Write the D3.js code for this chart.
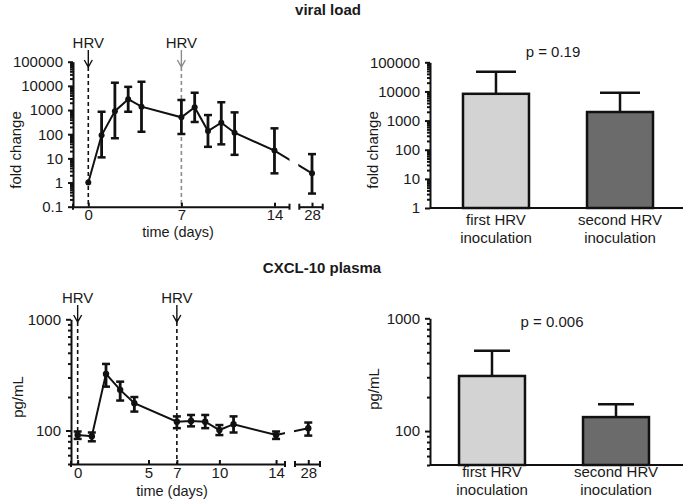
<!DOCTYPE html>
<html><head><meta charset="utf-8">
<script src="https://cdn.jsdelivr.net/npm/d3@7"></script>
<style>body{margin:0;background:#fff} text{font-family:"Liberation Sans",Arial,sans-serif;fill:#1a1a1a}</style>
</head><body>
<script>
// ---------- data ----------
const viralDays=[0,1,2,3,4,7,8,9,10,11,14,28];
const viralMean=[1,90,900,2800,1380,500,1300,135,300,115,21,2.4];
const viralLow=[1,11,68,850,126,102,320,30,38,14,2.4,0.35];
const viralHigh=[1,850,13500,9100,14800,2600,5200,620,2100,800,175,15];
const viralTicks=[0.1,1,10,100,1000,10000,100000];
const viralDayTicks=[0,7,14];

const cxclDays=[0,1,2,3,4,7,8,9,10,11,14,28];
const cxclMean=[91,89,323,232,176,120,122,120,101,114,91,105];
const cxclLow=[84,80,248,186,148,105,109,105,91,96,84,90];
const cxclHigh=[98,96,397,275,200,134,138,138,112,134,98,118];
const cxclTicks=[100,1000];
const cxclDayTicks=[0,5,7,10,14];
const lateDayTicks=[28];

const groups=["first HRV inoculation","second HRV inoculation"];
const groupLines=[["first HRV","inoculation"],["second HRV","inoculation"]];
const barColors=["#d3d3d3","#6b6b6b"];
const viralBar=[8300,1970];
const viralBarErr=[47500,9100];
const viralBarTicks=[1,10,100,1000,10000,100000];
const cxclBar=[308,133];
const cxclBarErr=[515,173];

const FS="15px";
const svg=d3.select("body").append("svg").attr("width",685).attr("height",500);
svg.append("rect").attr("width",685).attr("height",500).attr("fill","#fff");

function minorVals(dom){
  const out=[];
  for(let e=Math.floor(Math.log10(dom[0]));e<=Math.ceil(Math.log10(dom[1]));e++){
    for(let k=2;k<=9;k++){const v=k*Math.pow(10,e); if(v>=dom[0]&&v<=dom[1]) out.push(v);}
  }
  return out;
}
function yAxis(y,x0,majors){
  const g=svg.append("g").attr("transform",`translate(${x0},0)`);
  g.call(d3.axisLeft(y).tickValues(minorVals(y.domain())).tickSize(3).tickFormat("").tickSizeOuter(0));
  g.select(".domain").remove();
  const g2=svg.append("g").attr("transform",`translate(${x0},0)`);
  g2.call(d3.axisLeft(y).tickValues(majors).tickSize(5).tickPadding(5).tickFormat(d=>String(d)).tickSizeOuter(0));
  [g,g2].forEach(gg=>{gg.selectAll("path,line").attr("stroke","#111").attr("stroke-width",2);
    gg.selectAll("text").style("font-size",FS).attr("fill","#1a1a1a");});
}
function xAxisSeg(x,y0,ticks){
  const g=svg.append("g").attr("transform",`translate(0,${y0})`);
  g.call(d3.axisBottom(x).tickValues(ticks).tickSizeInner(-4).tickPadding(3).tickSizeOuter(0).tickFormat(d=>String(d)));
  g.selectAll("path,line").attr("stroke","#111").attr("stroke-width",2);
  g.selectAll("text").style("font-size",FS).attr("fill","#1a1a1a");
  // end caps of the broken axis
  x.range().forEach(px=>{
    g.append("line").attr("x1",px).attr("x2",px).attr("y1",-3).attr("y2",3).attr("stroke","#111").attr("stroke-width",2);
  });
}
function yLabel(txt,cx,cy){
  svg.append("text").attr("transform",`translate(${cx},${cy}) rotate(-90)`).attr("text-anchor","middle")
    .attr("dominant-baseline","central").style("font-size",FS).text(txt);
}
function hrv(x,yText,yA,yB,yBase,color){
  svg.append("text").attr("x",x).attr("y",yText).attr("text-anchor","middle").style("font-size",FS).text("HRV");
  svg.append("path").attr("d",`M${x},${yA}L${x},${yB}M${x-4},${yB-7}L${x},${yB}L${x+4},${yB-7}`)
    .attr("fill","none").attr("stroke",color).attr("stroke-width",1.4);
  svg.append("line").attr("x1",x).attr("x2",x).attr("y1",yB).attr("y2",yBase)
    .attr("stroke",color).attr("stroke-width",1.6).attr("stroke-dasharray","4,3");
}
function lineChart(id,days,mean,low,high,xA,xB,y,r,cap){
  const xs=d=>d>20?xB(d):xA(d);
  const cp=svg.append("clipPath").attr("id",id);
  cp.append("rect").attr("x",xA.range()[0]).attr("y",0).attr("width",xA.range()[1]-xA.range()[0]).attr("height",500);
  cp.append("rect").attr("x",xB.range()[0]-1).attr("y",0).attr("width",xB.range()[1]-xB.range()[0]+1).attr("height",500);
  const pts=days.map((d,i)=>({d,m:mean[i],lo:low[i],hi:high[i]}));
  svg.append("path").datum(pts).attr("clip-path",`url(#${id})`)
    .attr("d",d3.line().x(p=>xs(p.d)).y(p=>y(p.m))).attr("fill","none").attr("stroke","#111").attr("stroke-width",2);
  const eb=svg.append("g").selectAll("g").data(pts.filter(p=>p.hi!==p.lo)).join("g");
  eb.append("line").attr("x1",p=>xs(p.d)).attr("x2",p=>xs(p.d)).attr("y1",p=>y(p.lo)).attr("y2",p=>y(p.hi))
    .attr("stroke","#111").attr("stroke-width",2.8);
  eb.append("line").attr("x1",p=>xs(p.d)-cap).attr("x2",p=>xs(p.d)+cap).attr("y1",p=>y(p.hi)).attr("y2",p=>y(p.hi))
    .attr("stroke","#111").attr("stroke-width",2.5);
  eb.append("line").attr("x1",p=>xs(p.d)-cap).attr("x2",p=>xs(p.d)+cap).attr("y1",p=>y(p.lo)).attr("y2",p=>y(p.lo))
    .attr("stroke","#111").attr("stroke-width",2.5);
  svg.append("g").selectAll("circle").data(pts).join("circle").attr("cx",p=>xs(p.d)).attr("cy",p=>y(p.m))
    .attr("r",r).attr("fill","#111");
}
function barChart(x,y,vals,errs,capW,axisEnd){
  const y0=y.range()[0];
  groups.forEach((g,i)=>{
    const cx=x(g)+x.bandwidth()/2;
    svg.append("line").attr("x1",cx).attr("x2",cx).attr("y1",y(vals[i])).attr("y2",y(errs[i]))
      .attr("stroke","#111").attr("stroke-width",2.5);
    svg.append("line").attr("x1",cx-capW/2).attr("x2",cx+capW/2).attr("y1",y(errs[i])).attr("y2",y(errs[i]))
      .attr("stroke","#111").attr("stroke-width",2.5);
    svg.append("rect").attr("x",x(g)).attr("y",y(vals[i])).attr("width",x.bandwidth()).attr("height",y0-y(vals[i]))
      .attr("fill",barColors[i]).attr("stroke","#111").attr("stroke-width",2.5);
  });
  svg.append("line").attr("x1",x.range()[0]).attr("x2",axisEnd).attr("y1",y0).attr("y2",y0)
    .attr("stroke","#111").attr("stroke-width",2);
}
function catLabels(x,b1,b2){
  groups.forEach((g,i)=>{
    const cx=x(g)+x.bandwidth()/2;
    svg.append("text").attr("x",cx).attr("y",b1).attr("text-anchor","middle").style("font-size",FS).text(groupLines[i][0]);
    svg.append("text").attr("x",cx).attr("y",b2).attr("text-anchor","middle").style("font-size",FS).text(groupLines[i][1]);
  });
}

// ---------- titles ----------
svg.append("text").attr("x",328).attr("y",15).attr("text-anchor","middle").style("font-size","15px").style("font-weight","bold").text("viral load");
svg.append("text").attr("x",322).attr("y",273).attr("text-anchor","middle").style("font-size","15px").style("font-weight","bold").text("CXCL-10 plasma");

// ---------- top-left: viral load time course ----------
const yT=d3.scaleLog().domain([0.1,100000]).range([206.7,61.7]);
const xT1=d3.scaleLinear().domain([-1.15,15.13]).range([73,289.5]);
const xT2=d3.scaleLinear().domain([27.05,28.8]).range([299.3,322.7]);
hrv(xT1(0),48,50,67,206.7,"#111");
hrv(xT1(7),48,50,67,206.7,"#8c8c8c");
yAxis(yT,73,viralTicks);
xAxisSeg(xT1,206.7,viralDayTicks);
xAxisSeg(xT2,206.7,lateDayTicks);
lineChart("clipT",viralDays,viralMean,viralLow,viralHigh,xT1,xT2,yT,3,4);
yLabel("fold change",15.5,150);
svg.append("text").attr("x",178).attr("y",237).attr("text-anchor","middle").style("font-size","14.5px").text("time (days)");

// ---------- top-right: viral load bars ----------
const yV=d3.scaleLog().domain([1,100000]).range([208,62.3]);
const xV=d3.scaleBand().domain(groups).range([430,686]).paddingInner(0.468).paddingOuter(0.266);
barChart(xV,yV,viralBar,viralBarErr,40,683);
yAxis(yV,430,viralBarTicks);
catLabels(xV,225,243);
yLabel("fold change",372,150);
svg.append("text").attr("x",553).attr("y",57).attr("text-anchor","middle").style("font-size",FS).text("p = 0.19");

// ---------- bottom-left: CXCL-10 time course ----------
const yC=d3.scaleLog().domain([50,1000]).range([464,319.3]);
const xC1=d3.scaleLinear().domain([-0.47,14.63]).range([71,285]);
const xC2=d3.scaleLinear().domain([27.06,28.83]).range([295,320]);
hrv(xC1(0),303,305,322,464,"#111");
hrv(xC1(7),303,305,322,464,"#111");
yAxis(yC,71,cxclTicks);
xAxisSeg(xC1,464,cxclDayTicks);
xAxisSeg(xC2,464,lateDayTicks);
lineChart("clipC",cxclDays,cxclMean,cxclLow,cxclHigh,xC1,xC2,yC,3.2,4);
yLabel("pg/mL",17,397);
svg.append("text").attr("x",172).attr("y",495.5).attr("text-anchor","middle").style("font-size","14.5px").text("time (days)");

// ---------- bottom-right: CXCL-10 bars ----------
const yP=d3.scaleLog().domain([50,1000]).range([465,318.3]);
const xP=d3.scaleBand().domain(groups).range([430,678]).paddingInner(0.468).paddingOuter(0.234);
barChart(xP,yP,cxclBar,cxclBarErr,36,683);
yAxis(yP,430,cxclTicks);
catLabels(xP,477,495);
yLabel("pg/mL",373,389);
svg.append("text").attr("x",552).attr("y",327).attr("text-anchor","middle").style("font-size",FS).text("p = 0.006");
</script>
</body></html>
